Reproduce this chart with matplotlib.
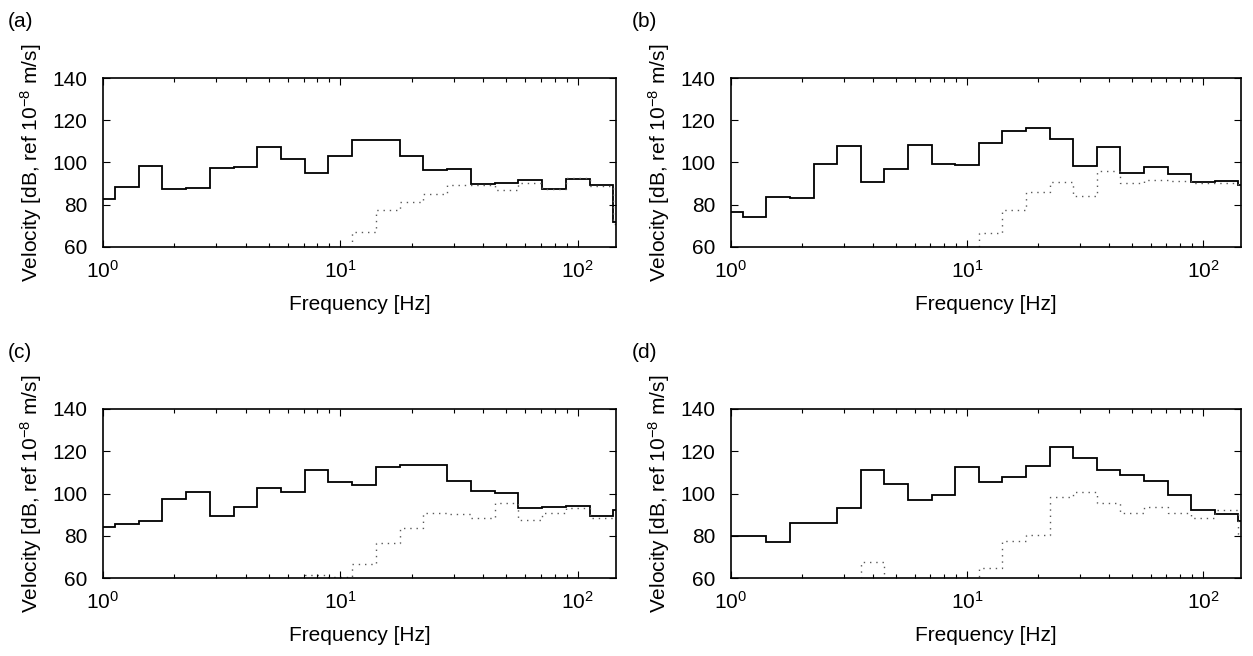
import numpy as np
import matplotlib
matplotlib.use("Agg")
import matplotlib.pyplot as plt

plt.rcParams['font.family'] = ['Liberation Sans', 'DejaVu Sans']
plt.rcParams['mathtext.fontset'] = 'custom'
plt.rcParams['mathtext.rm'] = 'Liberation Sans'
plt.rcParams['mathtext.it'] = 'Liberation Sans:italic'

# one-third octave band centre frequencies [Hz]
bands = [1, 1.25, 1.6, 2, 2.5, 3.15, 4, 5, 6.3, 8, 10, 12.5, 16, 20, 25,
         31.5, 40, 50, 63, 80, 100, 125, 160]

# solid = total, dotted = second component (dB re 1e-8 m/s); 50 = below axis
a_solid = [82.7, 88.6, 98.5, 87.5, 87.7, 97.5, 97.9, 107.5, 101.5, 95.2, 102.9,
           110.5, 110.5, 103.2, 96.5, 96.8, 89.8, 90.1, 91.6, 87.4, 92.4, 89.4, 72.0]
a_dot = [50, 50, 50, 50, 50, 50, 50, 50, 50, 50, 50,
         67.2, 77.5, 81.4, 84.9, 89.5, 89.2, 86.8, 90.2, 87.6, 92.8, 89.0, 71.0]

b_solid = [76.6, 74.2, 83.5, 83.1, 99.3, 107.8, 90.8, 97.1, 108.5, 99.4, 98.6,
           109.1, 115.1, 116.2, 111.1, 98.2, 107.2, 95.0, 97.7, 94.7, 90.8, 91.1, 89.4]
b_dot = [50, 50, 50, 50, 50, 50, 50, 50, 50, 50, 50,
         66.5, 77.4, 86.2, 90.8, 84.1, 96.1, 90.1, 91.7, 91.3, 90.2, 90.2, 89.4]

c_solid = [84.3, 85.5, 87.1, 97.2, 100.7, 89.3, 93.5, 102.8, 100.7, 111.3, 105.3,
           103.9, 112.7, 113.5, 113.6, 105.9, 101.3, 100.1, 93.3, 93.6, 94.0, 89.3, 92.4]
c_dot = [50, 50, 50, 50, 50, 50, 50, 50, 50, 61.3, 60.3,
         66.5, 76.7, 83.8, 90.9, 90.3, 88.6, 95.4, 87.3, 90.8, 93.3, 88.5, 88.5]

d_solid = [80.0, 80.0, 76.9, 86.2, 86.2, 93.3, 111.0, 104.5, 97.1, 99.1, 112.4,
           105.4, 107.8, 113.0, 121.9, 116.8, 111.1, 108.6, 105.9, 99.3, 92.4, 90.5, 86.9]
d_dot = [50, 50, 50, 50, 50, 50, 67.4, 50, 50, 50, 50,
         64.9, 77.4, 80.5, 98.2, 100.7, 95.6, 90.6, 93.8, 90.8, 88.2, 92.4, 81.0]

panels = [("(a)", a_solid, a_dot), ("(b)", b_solid, b_dot),
          ("(c)", c_solid, c_dot), ("(d)", d_solid, d_dot)]

# band edges from the nominal band numbering (base-10 third octaves)
n = np.arange(len(bands))
edges = 10 ** ((np.append(n, n[-1] + 1) - 0.5) / 10.0)

W, H = 1253, 656
fig = plt.figure(figsize=(W / 100, H / 100), dpi=100)

boxes = [(103, 78, 616, 247), (731, 78, 1241, 247),
         (103, 409, 616, 578), (731, 409, 1241, 578)]
label_pos = [(8, 12), (632, 12), (8, 343), (632, 343)]

for (lab, sol, dot), (x0, y0, x1, y1), (lx, ly) in zip(panels, boxes, label_pos):
    ax = fig.add_axes([x0 / W, 1 - y1 / H, (x1 - x0) / W, (y1 - y0) / H])
    ax.stairs(sol, edges, baseline=None, color='black', lw=1.3)
    ax.stairs(dot, edges, baseline=None, color='0.35', lw=1.0,
              linestyle=(0, (1, 3.5)))
    ax.set_xscale('log')
    ax.set_xlim(1, 145)
    ax.set_ylim(60, 140)
    ax.set_yticks([60, 80, 100, 120, 140])
    ax.tick_params(which='both', direction='in', top=True, right=True,
                   labelsize=15)
    ax.tick_params(axis='x', which='both', pad=9)
    ax.tick_params(axis='y', which='both', pad=11)
    ax.tick_params(which='major', length=5, width=0.8)
    ax.tick_params(which='minor', length=3, width=0.8)
    for s in ax.spines.values():
        s.set_linewidth(1.2)
    ax.set_xlabel('Frequency [Hz]', fontsize=15, labelpad=10)
    ax.set_ylabel('Velocity [dB, ref 10$^{-8}$ m/s]', fontsize=15, labelpad=6)
    fig.text(lx / W, 1 - ly / H, lab, fontsize=15, va='top', ha='left')

fig.savefig('out.png', dpi=100)
